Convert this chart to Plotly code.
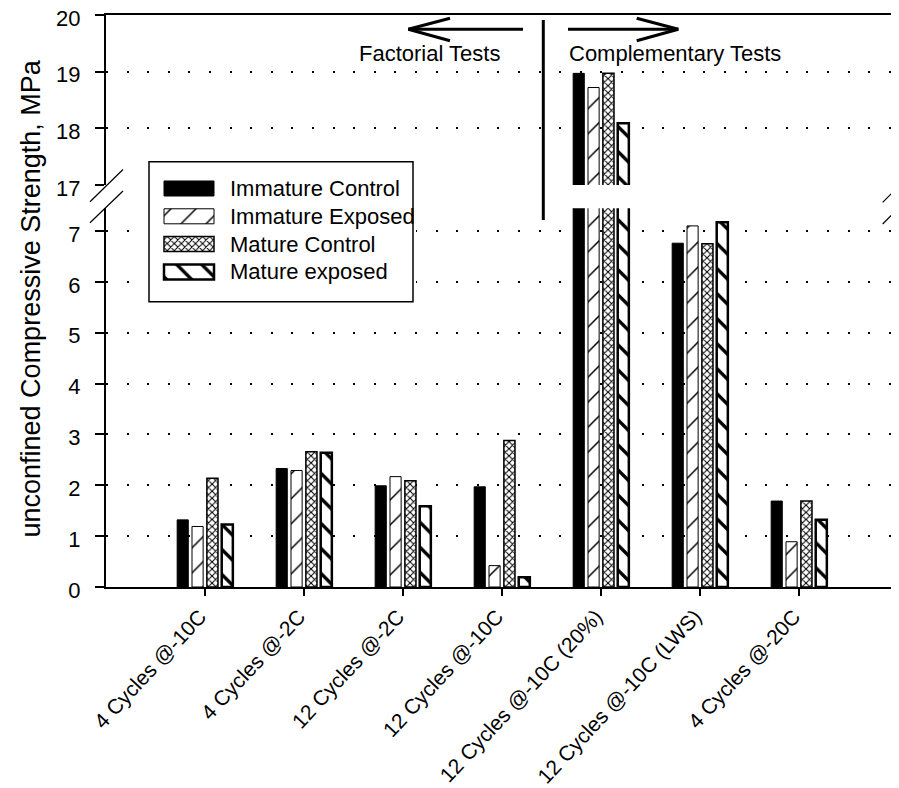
import plotly.graph_objects as go

# ---------------- data ----------------
categories = [
    "4 Cycles @-10C",
    "4 Cycles @-2C",
    "12 Cycles @-2C",
    "12 Cycles @-10C",
    "12 Cycles @-10C (20%)",
    "12 Cycles @-10C (LWS)",
    "4 Cycles @-20C",
]
immature_control = [1.32, 2.33, 1.99, 1.97, 18.97, 6.76, 1.69]
immature_exposed = [1.19, 2.29, 2.17, 0.42, 18.72, 7.10, 0.89]
mature_control = [2.14, 2.66, 2.09, 2.88, 18.97, 6.75, 1.69]
mature_exposed = [1.23, 2.64, 1.59, 0.19, 18.09, 7.17, 1.32]
series_names = ["Immature Control", "Immature Exposed", "Mature Control", "Mature exposed"]
lower_ticks = [0, 1, 2, 3, 4, 5, 6, 7]
upper_ticks = [17, 18, 19, 20]

# ---------------- geometry helpers ----------------
# page has an 8px body margin: figure is sized/offset so that the plot area
# lands on page pixels x 106..898, y 15..587
OFF = 8
W, H = 899 - OFF, 788 - OFF
PW, PH = 792, 572
L, T = 106 - OFF, 15 - OFF
R, B = W - L - PW, H - T - PH


def px(x):  # page pixel -> paper x
    return (x - OFF - L) / PW


def py(y):  # page pixel -> paper y
    return (T + PH - (y - OFF)) / PH


FONT = "Arial, Liberation Sans, sans-serif"

styles = [
    dict(color="black", line=dict(color="black", width=1)),
    dict(color="white", line=dict(color="black", width=1),
         pattern=dict(shape="/", size=17.7, solidity=0.085, fgcolor="black", bgcolor="white")),
    dict(color="white", line=dict(color="black", width=1.5),
         pattern=dict(shape="x", size=5, solidity=0.38, fgcolor="black", bgcolor="white")),
    dict(color="white", line=dict(color="black", width=2.5),
         pattern=dict(shape="\\", size=17.7, solidity=0.19, fgcolor="black", bgcolor="white")),
]
series = [immature_control, immature_exposed, mature_control, mature_exposed]

fig = go.Figure()
for xa, ya in [("x", "y"), ("x2", "y2")]:
    for name, vals, st in zip(series_names, series, styles):
        fig.add_trace(go.Bar(x=categories, y=vals, name=name, marker=st,
                             xaxis=xa, yaxis=ya, showlegend=False, hoverinfo="skip"))

# custom legend swatches (horizontal bars in a small subplot)
leg_rows = [0, 1, 2, 3]
for k, st in zip(leg_rows, styles):
    fig.add_trace(go.Bar(orientation="h", y=[k], x=[1], base=0, width=0.54, offset=-0.27,
                         marker=st, xaxis="x3", yaxis="y3", showlegend=False,
                         hoverinfo="skip"))

grid = dict(showgrid=True, gridcolor="black", gridwidth=2, griddash="2px,18.6px")
yax_common = dict(showline=True, linecolor="black", linewidth=2, mirror=True,
                  ticks="outside", ticklen=9, tickwidth=1.5, tickcolor="black",
                  ticklabelstandoff=10, ticklabelshift=3, ticklabeloverflow="allow",
                  automargin=False,
                  tickfont=dict(size=22, color="black", family=FONT),
                  zeroline=False, **grid)

# legend axis geometry (page-pixel layout of the legend box)
lx0, lx1, ly0, ly1 = 146, 416, 158.7, 304.7
sw_left, sw_w = 164, 50
row0, pitch = 188.5, 27.8

fig.update_layout(
    template="none",
    width=W, height=H,
    margin=dict(l=L, r=R, t=T, b=B, pad=0),
    paper_bgcolor="white", plot_bgcolor="white",
    font=dict(family=FONT, color="black", size=22),
    barmode="group", bargap=0.4, bargroupgap=0.25,
    showlegend=False,
    xaxis=dict(domain=[0, 1], anchor="y", type="category", range=[-1, 7],
               showline=True, linecolor="black", linewidth=2, mirror=False,
               ticks="outside", ticklen=7, tickwidth=1.5, tickcolor="black",
               tickangle=-47, ticklabelshift=-5, ticklabeloverflow="allow",
               tickfont=dict(size=21, color="black", family=FONT),
               showgrid=False, automargin=False, zeroline=False),
    xaxis2=dict(domain=[0, 1], anchor="y2", matches="x", type="category", side="top",
                showline=True, linecolor="black", linewidth=2, automargin=False,
                showticklabels=False, ticks="", showgrid=False, zeroline=False),
    yaxis=dict(domain=[0, py(208.3)], anchor="x", range=[0, 7.446],
               tickvals=lower_ticks, **yax_common),
    yaxis2=dict(domain=[py(185), 1], anchor="x2", range=[17, 20],
                tickvals=upper_ticks, **yax_common),
    xaxis3=dict(domain=[px(lx0), px(lx1)], anchor="y3",
                range=[(lx0 - sw_left) / sw_w, (lx1 - sw_left) / sw_w],
                showgrid=False, zeroline=False, showline=False, automargin=False,
                showticklabels=False, ticks=""),
    yaxis3=dict(domain=[py(ly1), py(ly0)], anchor="x3",
                range=[(ly1 - row0) / pitch, (ly0 - row0) / pitch],
                showgrid=False, zeroline=False, showline=False, automargin=False,
                showticklabels=False, ticks=""),
)

shapes = []
# legend box
shapes.append(dict(type="rect", xref="x3", yref="y3",
                   x0=(149 - sw_left) / sw_w, x1=(413 - sw_left) / sw_w,
                   y0=(161.7 - row0) / pitch, y1=(301.7 - row0) / pitch,
                   line=dict(color="black", width=1.5), fillcolor="white", layer="between"))


def seg(x0, y0, x1, y1, w):
    return dict(type="line", xref="paper", yref="paper",
                x0=px(x0), y0=py(y0), x1=px(x1), y1=py(y1),
                line=dict(color="black", width=w), layer="above")


# axis break marks
shapes += [seg(90, 201.7, 123, 169.5, 1.2), seg(90, 222.7, 123, 191, 1.2),
           seg(882.7, 202.3, 899, 186.0, 1.2), seg(882.7, 224, 899, 207.7, 1.2)]
# separator line
shapes.append(seg(543.3, 20, 543.3, 220, 3))
# arrows
shapes += [seg(523, 29.3, 408.3, 29.3, 3), seg(450, 18.3, 408.3, 29.3, 3),
           seg(450, 40.7, 408.3, 29.3, 3),
           seg(568, 29.3, 678.3, 29.3, 3), seg(636.7, 18.3, 678.3, 29.3, 3),
           seg(636.7, 40.7, 678.3, 29.3, 3)]
fig.update_layout(shapes=shapes)

ann = []
for k, name in zip(leg_rows, series_names):
    ann.append(dict(xref="x3", yref="y3", x=(228 - sw_left) / sw_w, y=k, text=name,
                    showarrow=False, xanchor="left", yanchor="middle",
                    font=dict(size=22, color="black", family=FONT)))
ann.append(dict(xref="paper", yref="paper", x=px(429.5), y=py(53), text="Factorial Tests",
                showarrow=False, xanchor="center", yanchor="middle",
                font=dict(size=22, color="black", family=FONT)))
ann.append(dict(xref="paper", yref="paper", x=px(674.7), y=py(53), text="Complementary Tests",
                showarrow=False, xanchor="center", yanchor="middle",
                font=dict(size=22, color="black", family=FONT)))
ann.append(dict(xref="paper", yref="paper", x=px(30), y=py(298.5),
                text="unconfined Compressive Strength, MPa", textangle=-90,
                showarrow=False, xanchor="center", yanchor="middle",
                font=dict(size=27, color="black", family=FONT)))
fig.update_layout(annotations=ann)

fig.write_html("out.html")
